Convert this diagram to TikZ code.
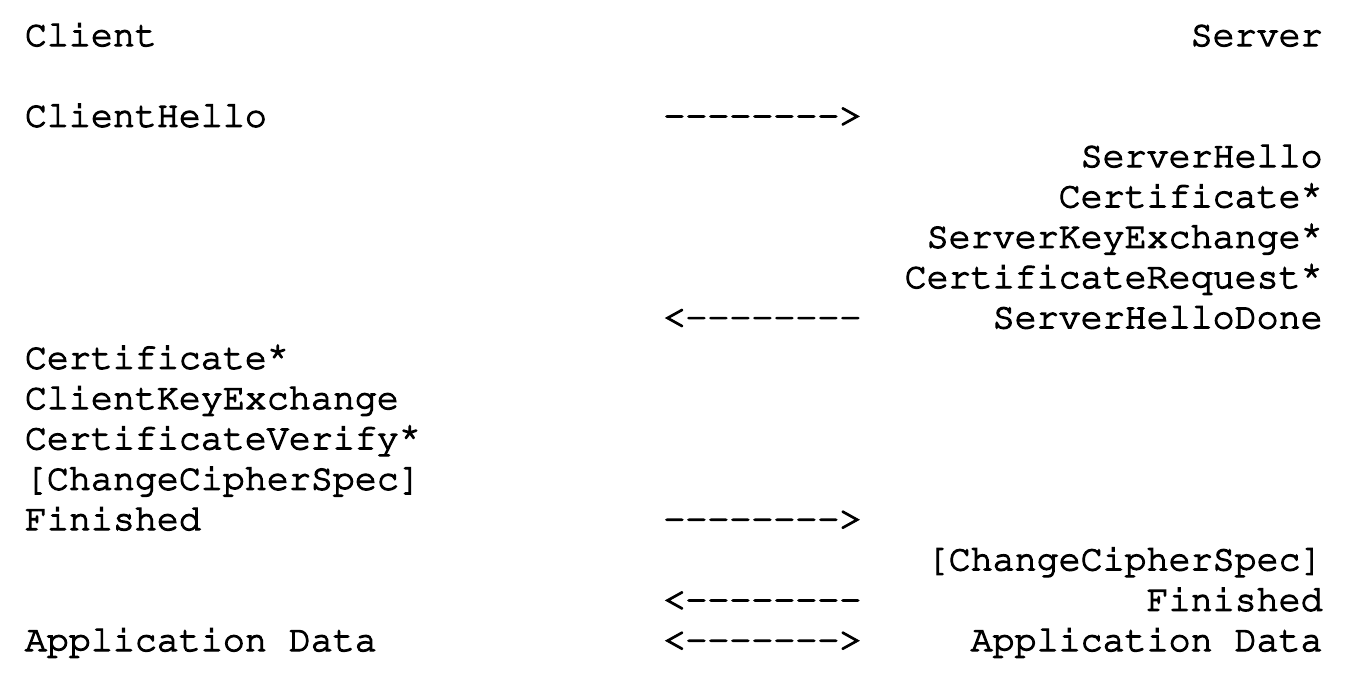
\documentclass[tikz,border=0pt]{standalone}
\usepackage[T1]{fontenc}
\usepackage{courier}
\usepackage{tikz}

% heavier strokes for the typewriter text, and a raised asterisk
\newcommand{\heavyon}{\special{pdf:literal 2 Tr 0.6 w}}
\newcommand{\heavyoff}{\special{pdf:literal 0 Tr}}
\newcommand{\starmark}{\raisebox{0.22em}{*}}
\newcommand{\fwd}{-{}-{}-{}-{}-{}-{}-{}->}
\newcommand{\bwd}{<-{}-{}-{}-{}-{}-{}-{}-}
\newcommand{\both}{<-{}-{}-{}-{}-{}-{}->}

\tikzset{
	msg/.style={inner sep=0pt,font=\ttfamily\fontsize{18.33pt}{20pt}\selectfont,execute at begin node=\heavyon,execute at end node=\heavyoff},
	lft/.style={msg,anchor=base west},
	rgt/.style={msg,anchor=base east}
}

\begin{document}
\begin{tikzpicture}[x=0.5pt,y=-0.5pt]
		\useasboundingbox (0,0) rectangle (1364,682);
		% columns: client at 24.5, arrows at 663, server ends at 1323
		\node[lft] (client) at (24.5,46) {Client};
		\node[rgt] (server) at (1323,46) {Server};
		\node[lft] (chello) at (24.5,126.7) {ClientHello};
		\node[lft] (arr1) at (663,126.7) {\fwd};
		\node[rgt] (shello) at (1323,167) {ServerHello};
		\node[rgt] (scert) at (1323,207.3) {Certificate\starmark};
		\node[rgt] (skex) at (1323,247.7) {ServerKeyExchange\starmark};
		\node[rgt] (creq) at (1323,288) {CertificateRequest\starmark};
		\node[lft] (arr2) at (663,328.3) {\bwd};
		\node[rgt] (shdone) at (1323,328.3) {ServerHelloDone};
		\node[lft] (ccert) at (24.5,368.7) {Certificate\starmark};
		\node[lft] (ckex) at (24.5,409) {ClientKeyExchange};
		\node[lft] (cver) at (24.5,449.3) {CertificateVerify\starmark};
		\node[lft] (cccs) at (24.5,489.7) {[ChangeCipherSpec]};
		\node[lft] (cfin) at (24.5,530) {Finished};
		\node[lft] (arr3) at (663,530) {\fwd};
		\node[rgt] (sccs) at (1323,570.3) {[ChangeCipherSpec]};
		\node[lft] (arr4) at (663,610.7) {\bwd};
		\node[rgt] (sfin) at (1323,610.7) {Finished};
		\node[lft] (cdata) at (24.5,651) {Application Data};
		\node[lft] (arr5) at (663,651) {\both};
		\node[rgt] (sdata) at (1323,651) {Application Data};
	\end{tikzpicture}
\end{document}
